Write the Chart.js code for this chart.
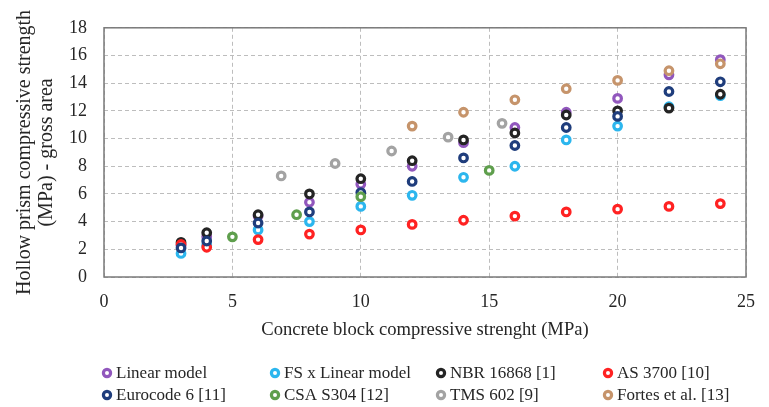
<!DOCTYPE html>
<html lang="en">
<head>
  <meta charset="UTF-8">
  <title>Hollow prism compressive strength</title>
  <script src="https://cdn.jsdelivr.net/npm/chart.js"></script>
  <style>
    html, body {
      margin: 0;
      padding: 0;
      background: #ffffff;
    }
    #wrap {
      width: 769px;
      height: 407px;
    }
  </style>
</head>
<body>
  <div id="wrap">
    <canvas id="prismChart" width="769" height="407"></canvas>
  </div>
  <script>
    // block strengths (MPa) shared by the model / code series
    const blockStrength = [3, 4, 6, 8, 10, 12, 14, 16, 18, 20, 22, 24];

    const linearModel = [2.3, 2.9, 4.4, 5.4, 6.7, 8.0, 9.7, 10.8, 11.9, 12.9, 14.6, 15.7];
    const fsLinearModel = [1.7, 2.3, 3.4, 4.0, 5.1, 5.9, 7.2, 8.0, 9.9, 10.9, 12.3, 13.1];
    const nbr16868 = [2.5, 3.2, 4.5, 6.0, 7.1, 8.4, 9.9, 10.4, 11.7, 12.0, 12.2, 13.2];
    const as3700 = [2.35, 2.15, 2.7, 3.1, 3.4, 3.8, 4.1, 4.4, 4.7, 4.9, 5.1, 5.3];
    const eurocode6 = [2.1, 2.6, 3.9, 4.7, 6.1, 6.9, 8.6, 9.5, 10.8, 11.6, 13.4, 14.1];

    const csaX = [5, 7.5, 10, 15];
    const csaS304 = [2.9, 4.5, 5.8, 7.7];

    const tmsX = [6.9, 9, 11.2, 13.4, 15.5];
    const tms602 = [7.3, 8.2, 9.1, 10.1, 11.1];

    const fortesX = [12, 14, 16, 18, 20, 22, 24];
    const fortes = [10.9, 11.9, 12.8, 13.6, 14.2, 14.9, 15.4];

    const xTicks = [0, 5, 10, 15, 20, 25];
    const yTicks = [0, 2, 4, 6, 8, 10, 12, 14, 16, 18];

    const seriesLabels = [
      'Linear model', 'FS x Linear model', 'NBR 16868 [1]', 'AS 3700 [10]',
      'Eurocode 6 [11]', 'CSA S304 [12]', 'TMS 602 [9]', 'Fortes et al. [13]'
    ];
    const seriesColors = [
      '#9157bd', '#2cb6ee', '#242424', '#ff2222',
      '#1f3d7c', '#5f9f4d', '#a3a3a3', '#c6946b'
    ];

    const FONT = '"Liberation Serif", "Times New Roman", serif';
    const TEXT = '#262626';
    const DASH = [4, 3];

    function pairs(xs, ys) {
      return xs.map((x, i) => ({ x: x, y: ys[i] }));
    }

    const seriesData = [
      pairs(blockStrength, linearModel),
      pairs(blockStrength, fsLinearModel),
      pairs(blockStrength, nbr16868),
      pairs(blockStrength, as3700),
      pairs(blockStrength, eurocode6),
      pairs(csaX, csaS304),
      pairs(tmsX, tms602),
      pairs(fortesX, fortes)
    ];

    const datasets = seriesData.map((d, i) => ({
      label: seriesLabels[i],
      data: d,
      borderColor: seriesColors[i],
      backgroundColor: '#ffffff',
      pointRadius: 3.8,
      pointHoverRadius: 3.8,
      pointBorderWidth: 3.2,
      // later series sit on top
      order: seriesLabels.length - i
    }));

    // frame around the plot area
    const frame = {
      id: 'frame',
      beforeDatasetsDraw(chart) {
        const a = chart.chartArea;
        const ctx = chart.ctx;
        ctx.save();
        ctx.strokeStyle = '#7a7a7a';
        ctx.lineWidth = 1.5;
        ctx.strokeRect(a.left, a.top, a.right - a.left, a.bottom - a.top);
        ctx.restore();
      }
    };

    // 4 x 2 legend below the x-axis title
    const legendCols = [107, 275, 441, 608];
    const legendRows = [373, 395];
    const gridLegend = {
      id: 'gridLegend',
      afterDraw(chart) {
        const ctx = chart.ctx;
        ctx.save();
        ctx.font = '17px ' + FONT;
        ctx.textBaseline = 'middle';
        ctx.textAlign = 'left';
        chart.data.datasets.forEach((ds, i) => {
          const x = legendCols[i % 4];
          const y = legendRows[Math.floor(i / 4)];
          ctx.beginPath();
          ctx.arc(x, y, 3.6, 0, Math.PI * 2);
          ctx.fillStyle = '#ffffff';
          ctx.fill();
          ctx.lineWidth = 3.2;
          ctx.strokeStyle = ds.borderColor;
          ctx.stroke();
          ctx.fillStyle = TEXT;
          ctx.fillText(ds.label, x + 9, y + 1);
        });
        ctx.restore();
      }
    };

    const ctx = document.getElementById('prismChart').getContext('2d');
    new Chart(ctx, {
      type: 'scatter',
      data: { datasets: datasets },
      options: {
        responsive: false,
        animation: false,
        events: [],
        layout: {
          padding: { left: 0, right: 11, top: 16, bottom: 60 }
        },
        scales: {
          x: {
            type: 'linear',
            min: 0,
            max: 25,
            afterBuildTicks: (scale) => {
              scale.ticks = xTicks.map(v => ({ value: v }));
            },
            afterFit: (scale) => { scale.height = 70; },
            border: { display: false, dash: DASH },
            grid: {
              color: '#bdbdbd',
              lineWidth: 1,
              drawTicks: false
            },
            ticks: {
              padding: 14,
              color: TEXT,
              font: { family: FONT, size: 18 }
            },
            title: {
              display: true,
              text: 'Concrete block compressive strenght (MPa)',
              color: TEXT,
              font: { family: FONT, size: 18.6 },
              padding: { top: 0, bottom: 6 }
            }
          },
          y: {
            type: 'linear',
            min: 0,
            max: 18,
            afterBuildTicks: (scale) => {
              scale.ticks = yTicks.map(v => ({ value: v }));
            },
            afterFit: (scale) => { scale.width = 104; },
            border: { display: false, dash: DASH },
            grid: {
              color: '#bdbdbd',
              lineWidth: 1,
              drawTicks: false
            },
            ticks: {
              padding: 17,
              color: TEXT,
              font: { family: FONT, size: 18 }
            },
            title: {
              display: true,
              text: ['Hollow prism compressive strength', '(MPa) - gross area'],
              color: TEXT,
              font: { family: FONT, size: 20, lineHeight: 1.1 },
              padding: { top: 14, bottom: 0 }
            }
          }
        },
        plugins: {
          legend: { display: false },
          tooltip: { enabled: false }
        }
      },
      plugins: [frame, gridLegend]
    });
  </script>
</body>
</html>
